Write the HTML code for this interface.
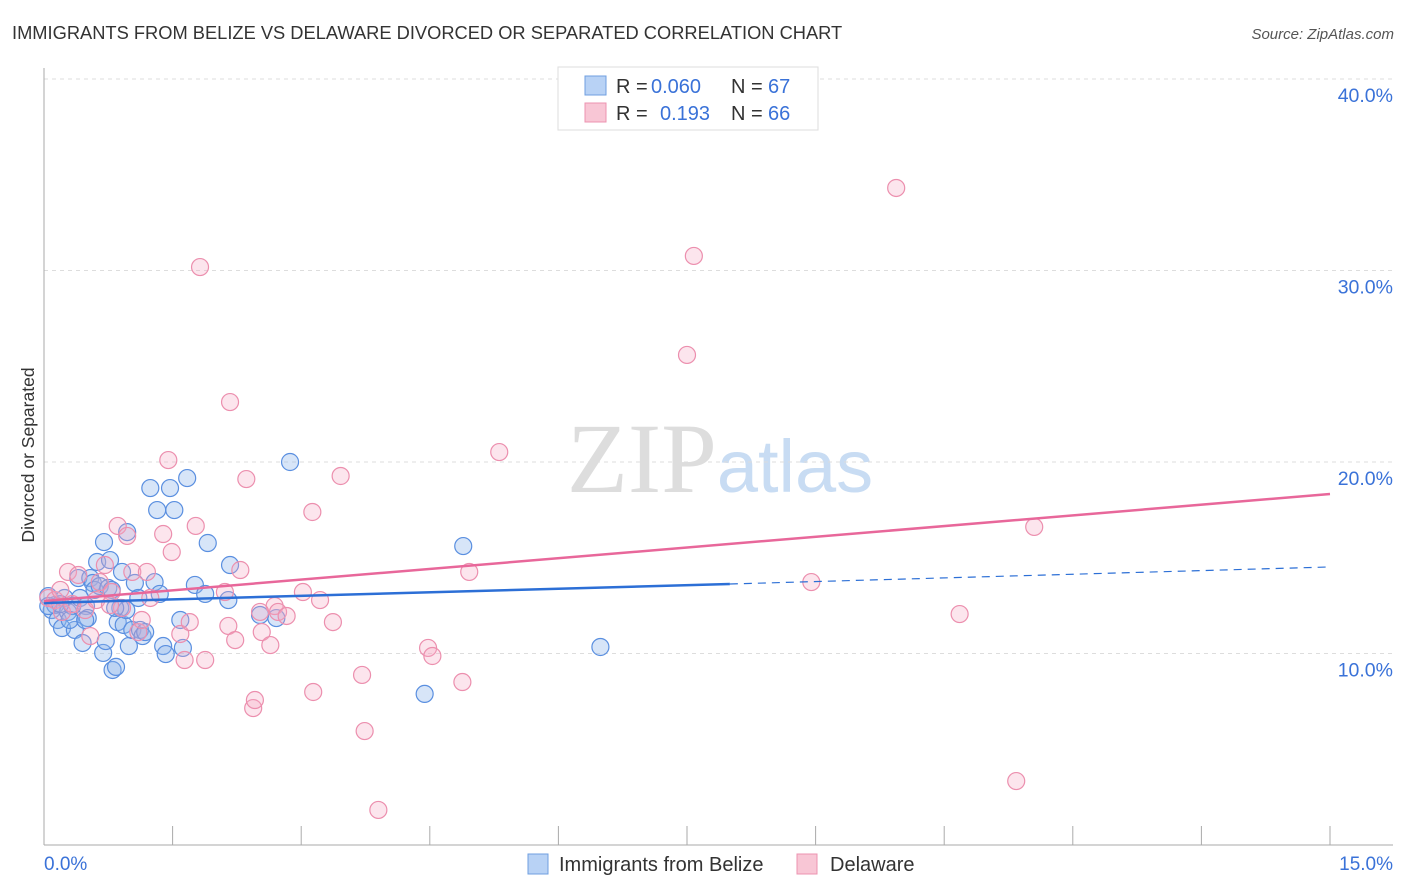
<!DOCTYPE html>
<html><head><meta charset="utf-8"><style>
body{margin:0;background:#fff;font-family:"Liberation Sans",sans-serif}
svg{display:block}
</style></head><body>
<svg id="chart" width="1406" height="892" viewBox="0 0 1406 892" xmlns="http://www.w3.org/2000/svg">
<text x="12" y="39" font-size="18.3" fill="#333" font-family="Liberation Sans, sans-serif">IMMIGRANTS FROM BELIZE VS DELAWARE DIVORCED OR SEPARATED CORRELATION CHART</text>
<text x="1394" y="39" font-size="15" fill="#555" text-anchor="end" font-style="italic">Source: ZipAtlas.com</text>
<text x="720" y="492" font-size="100" text-anchor="middle" fill="#ddd" font-family="Liberation Serif, serif">ZIP<tspan fill="#c8dcf3" font-family="Liberation Sans, sans-serif" font-size="74">atlas</tspan></text>
<g id="grid"></g>
<g id="axes"></g>
<g id="marks"></g>
<g id="trends"></g>
<text transform="translate(34,455) rotate(-90)" font-size="17.5" fill="#333" text-anchor="middle">Divorced or Separated</text>
<g>
<rect x="558" y="67" width="260" height="63" fill="#fff" stroke="#ddd"/>
<rect x="585" y="76" width="21" height="19" fill="#b8d2f5" stroke="#6f9fe0"/>
<rect x="585" y="103" width="21" height="19" fill="#f8c6d5" stroke="#ec93b0"/>
<text x="616" y="93" font-size="20" fill="#333">R =</text>
<text x="651" y="93" font-size="20" fill="#3a72d8">0.060</text>
<text x="731" y="93" font-size="20" fill="#333">N =</text>
<text x="768" y="93" font-size="20" fill="#3a72d8">67</text>
<text x="616" y="120" font-size="20" fill="#333">R =</text>
<text x="660" y="120" font-size="20" fill="#3a72d8">0.193</text>
<text x="731" y="120" font-size="20" fill="#333">N =</text>
<text x="768" y="120" font-size="20" fill="#3a72d8">66</text>
</g>
<g>
<rect x="528" y="854" width="20" height="20" fill="#b8d2f5" stroke="#6f9fe0"/>
<text x="559" y="871" font-size="20" fill="#333">Immigrants from Belize</text>
<rect x="797" y="854" width="20" height="20" fill="#f8c6d5" stroke="#ec93b0"/>
<text x="830" y="871" font-size="20" fill="#333">Delaware</text>
</g>
</svg>
<script>
const blueX=[0.05,0.09,0.13,0.16,0.21,0.24,0.28,0.33,0.36,0.40,0.42,0.45,0.49,0.51,0.54,0.57,0.59,0.62,0.65,0.69,0.70,0.72,0.75,0.77,0.79,0.80,0.84,0.86,0.89,0.91,0.93,0.96,0.97,0.99,1.03,1.06,1.10,1.12,1.15,1.24,1.29,1.32,1.35,1.39,1.42,1.47,1.52,1.59,1.62,1.67,1.76,1.88,1.91,2.15,2.17,2.52,2.71,2.87,4.44,4.89,6.49,0.05,0.19,0.30,0.48,0.83,1.18];
const blueY=[13.0,12.27,12.53,11.75,11.33,12.9,12.17,12.48,11.23,13.94,12.9,10.55,12.48,11.85,13.94,13.68,13.32,14.78,13.52,10.03,15.82,10.65,13.42,14.88,13.32,9.14,9.30,11.64,12.38,14.26,11.49,12.27,16.34,10.39,11.23,13.68,12.9,11.23,10.91,18.64,13.73,17.49,13.11,10.39,9.97,18.64,17.49,11.75,10.29,19.16,13.58,13.11,15.77,12.79,14.62,12.01,11.85,20.0,7.89,15.61,10.34,12.48,12.58,11.75,11.75,12.38,11.12];
const pinkX=[0.05,0.13,0.21,0.28,0.33,0.40,0.48,0.54,0.61,0.65,0.71,0.79,0.86,0.91,0.97,1.03,1.10,1.14,1.20,1.24,1.39,1.45,1.49,1.59,1.64,1.70,1.77,1.82,1.88,2.11,2.15,2.17,2.23,2.29,2.36,2.44,2.46,2.54,2.64,2.69,2.73,2.83,3.02,3.13,3.14,3.22,3.37,3.46,3.71,3.74,3.90,4.48,4.53,4.88,4.96,5.31,7.50,7.58,8.95,9.94,10.68,11.34,11.55,0.19,0.77,2.52];
const pinkY=[12.9,12.79,12.17,14.26,12.58,14.10,12.27,10.91,12.79,13.73,14.62,13.21,16.66,12.38,16.14,14.26,11.12,11.75,14.26,12.9,16.24,20.10,15.30,11.02,9.66,11.64,16.66,30.18,9.66,13.21,11.44,23.13,10.70,14.36,19.11,7.15,7.57,11.12,10.44,12.48,12.17,11.96,13.21,17.39,7.99,12.79,11.64,19.27,8.88,5.95,1.83,10.29,9.87,8.51,14.26,20.52,25.59,30.76,13.73,34.31,12.06,3.34,16.61,13.32,12.53,12.17];
const blueTrendX=[0,8.0,15];
const blueTrendY=[12.64,13.63,14.52];
const pinkTrendX=[0,15];
const pinkTrendY=[12.74,18.33];
const yTicks=[10,20,30,40];
const yTickLabels=["10.0%","20.0%","30.0%","40.0%"];
const xTicks=[0,1.5,3,4.5,6,7.5,9,10.5,12,13.5,15];

const NS="http://www.w3.org/2000/svg";
const sx=v=>44+v*(1286/15);
const sy=v=>845-v*19.15;
function mk(tag,attrs,parent){const e=document.createElementNS(NS,tag);for(const k in attrs)e.setAttribute(k,attrs[k]);document.getElementById(parent).appendChild(e);return e;}

yTicks.forEach((t,i)=>{
  const g=mk('line',{x1:44,x2:1393,y1:sy(t),y2:sy(t),stroke:'#ddd','stroke-dasharray':'4,4'},'grid');
  
  
  const l=mk('text',{x:1393,y:sy(t)+23,'font-size':19.5,fill:'#3a72d8','text-anchor':'end'},'axes');
  l.textContent=yTickLabels[i];
  
  
});
const ya=mk('line',{x1:44,x2:44,y1:68,y2:845,stroke:'#aaa'},'axes');


const xa=mk('line',{x1:44,x2:1393,y1:845,y2:845,stroke:'#aaa'},'axes');


xTicks.forEach(t=>{
  const k=mk('line',{x1:sx(t),x2:sx(t),y1:826,y2:845,stroke:'#aaa'},'axes');
  
  
});
const x0=mk('text',{x:44,y:870,'font-size':19,fill:'#3a72d8'},'axes');x0.textContent='0.0%';


const x1=mk('text',{x:1393,y:870,'font-size':19,fill:'#3a72d8','text-anchor':'end'},'axes');x1.textContent='15.0%';



blueX.forEach((v,i)=>{
  const c=mk('circle',{cx:sx(v),cy:sy(blueY[i]),r:8.5,fill:'rgba(140,180,235,0.35)',stroke:'#5a8fe0','stroke-width':1.2},'marks');
  
  
});
pinkX.forEach((v,i)=>{
  const c=mk('circle',{cx:sx(v),cy:sy(pinkY[i]),r:8.5,fill:'rgba(245,170,195,0.3)',stroke:'#ec8fae','stroke-width':1.2},'marks');
  
  
});
const b1=mk('line',{x1:sx(blueTrendX[0]),y1:sy(blueTrendY[0]),x2:sx(blueTrendX[1]),y2:sy(blueTrendY[1]),stroke:'#2c6fd6','stroke-width':2.5},'trends');


const b2=mk('line',{x1:sx(blueTrendX[1]),y1:sy(blueTrendY[1]),x2:sx(blueTrendX[2]),y2:sy(blueTrendY[2]),stroke:'#2c6fd6','stroke-width':1.2,'stroke-dasharray':'8,6'},'trends');


const p1=mk('line',{x1:sx(pinkTrendX[0]),y1:sy(pinkTrendY[0]),x2:sx(pinkTrendX[1]),y2:sy(pinkTrendY[1]),stroke:'#e8679a','stroke-width':2.5},'trends');


</script>
</body></html>
